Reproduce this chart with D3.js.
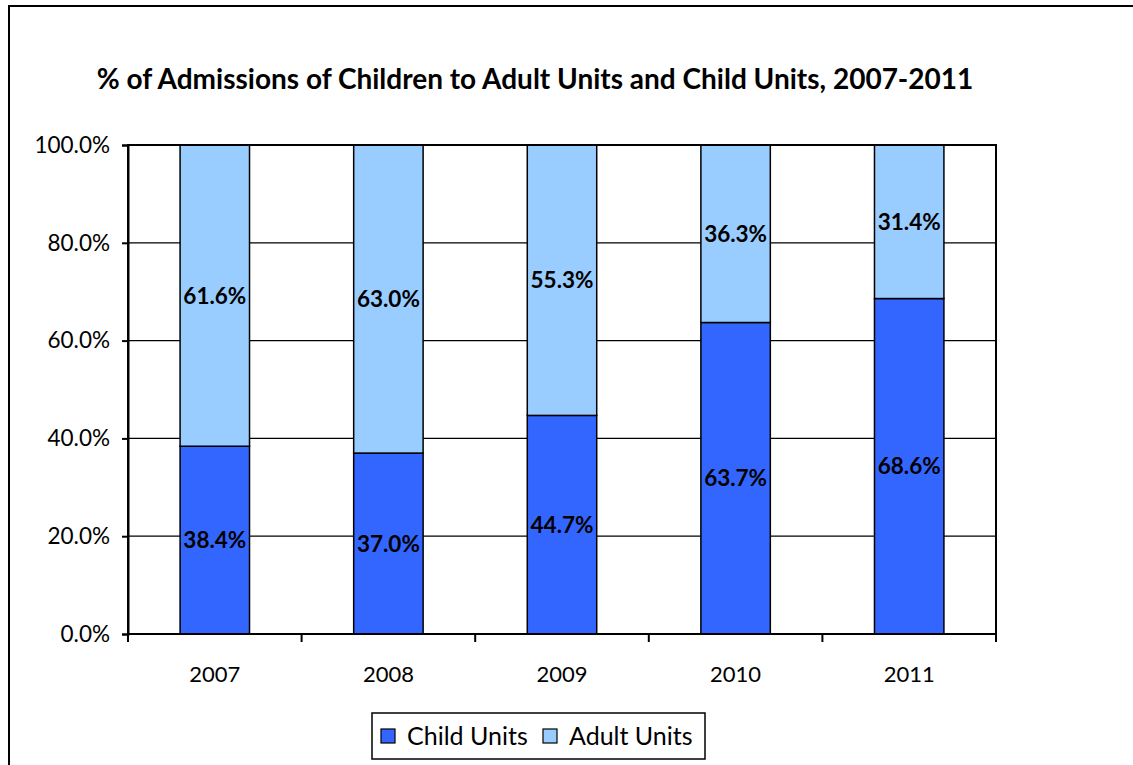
<!DOCTYPE html>
<html><head><meta charset="utf-8">
<script src="https://cdn.jsdelivr.net/npm/d3@7"></script>
<style>html,body{margin:0;padding:0;background:#fff;overflow:hidden}</style>
</head><body>
<svg id="chart" width="1133" height="765"></svg>
<script>
const years = ["2007","2008","2009","2010","2011"];
const childUnits = [38.4, 37.0, 44.7, 63.7, 68.6];
const adultUnits = [61.6, 63.0, 55.3, 36.3, 31.4];
const yTicks = [0, 20, 40, 60, 80, 100];
const seriesNames = ["Child Units", "Adult Units"];
const seriesColors = ["#3366FF", "#99CCFF"];
const titleText = "% of Admissions of Children to Adult Units and Child Units, 2007-2011";

const font = "Lato, 'Open Sans', sans-serif";
const svg = d3.select("#chart");
svg.append("rect").attr("x",9).attr("y",6).attr("width",1200).attr("height",900)
  .attr("fill","#fff").attr("stroke","#000").attr("stroke-width",2);

const m = {left:128, right:996, top:145, bottom:634};
const x = d3.scaleBand().domain(years).range([m.left, m.right]).paddingInner(0.6).paddingOuter(0.3);
const y = d3.scaleLinear().domain([0,100]).range([m.bottom, m.top]);

svg.append("text").attr("x",535).attr("y",89).attr("text-anchor","middle")
  .attr("font-family",font).attr("font-weight","bold").attr("font-size",28).text(titleText);

// gridlines
svg.append("g").selectAll("line").data(yTicks.filter(d=>d>0)).join("line")
  .attr("x1",m.left).attr("x2",m.right).attr("y1",d=>y(d)).attr("y2",d=>y(d))
  .attr("stroke","#000").attr("stroke-width",1.2);

// stacked data
const rows = years.map((yr,i)=>({year:yr, "Child Units":childUnits[i], "Adult Units":adultUnits[i]}));
const stack = d3.stack().keys(seriesNames)(rows);
const g = svg.append("g");
stack.forEach((s,si)=>{
  g.selectAll(null).data(s).join("rect")
    .attr("x",d=>x(d.data.year)).attr("width",x.bandwidth())
    .attr("y",d=>y(Math.min(d[1],100))).attr("height",d=>y(d[0])-y(Math.min(d[1],100)))
    .attr("fill",seriesColors[si]).attr("stroke","#000").attr("stroke-width",1.5);
});
stack.forEach((s,si)=>{
  g.selectAll(null).data(s).join("text")
    .attr("x",d=>x(d.data.year)+x.bandwidth()/2)
    .attr("y",d=>(y(d[0])+y(Math.min(d[1],100)))/2)
    .attr("dy","0.36em").attr("text-anchor","middle")
    .attr("font-family",font).attr("font-weight","bold").attr("font-size",22.5)
    .text(d=>(d[1]-d[0]).toFixed(1)+"%");
});

// plot border
svg.append("rect").attr("x",m.left).attr("y",m.top).attr("width",m.right-m.left).attr("height",m.bottom-m.top)
  .attr("fill","none").attr("stroke","#000").attr("stroke-width",2);

// y axis
const yAxis = svg.append("g").attr("transform",`translate(${m.left},0)`)
  .call(d3.axisLeft(y).tickValues(yTicks).tickSize(6).tickPadding(12).tickFormat(d=>d.toFixed(1)+"%"));
yAxis.select(".domain").attr("stroke","#000").attr("stroke-width",2);
yAxis.selectAll(".tick line").attr("stroke","#000").attr("stroke-width",2);
yAxis.selectAll("text").attr("font-family",font).attr("font-size",22.5).attr("fill","#000");

// x axis
const xAxis = svg.append("g").attr("transform",`translate(0,${m.bottom})`)
  .call(d3.axisBottom(x).tickSize(0).tickPadding(32));
xAxis.select(".domain").remove();
xAxis.selectAll("text").attr("font-family",font).attr("font-size",22).attr("fill","#000");
const bounds = d3.range(years.length+1).map(i=>m.left + i*(m.right-m.left)/years.length);
svg.append("g").selectAll("line").data(bounds).join("line")
  .attr("x1",d=>d).attr("x2",d=>d).attr("y1",m.bottom).attr("y2",m.bottom+8)
  .attr("stroke","#000").attr("stroke-width",2);

// legend
const lg = svg.append("g");
lg.append("rect").attr("x",372).attr("y",713).attr("width",333).attr("height",46)
  .attr("fill","#fff").attr("stroke","#000").attr("stroke-width",1.5);
const legendX = [381, 543];
seriesNames.forEach((n,i)=>{
  lg.append("rect").attr("x",legendX[i]).attr("y",729).attr("width",14).attr("height",14)
    .attr("fill",seriesColors[i]).attr("stroke","#000").attr("stroke-width",1.2);
  lg.append("text").attr("x",legendX[i]+26).attr("y",745)
    .attr("font-family",font).attr("font-size",25).text(n);
});
</script>
</body></html>
